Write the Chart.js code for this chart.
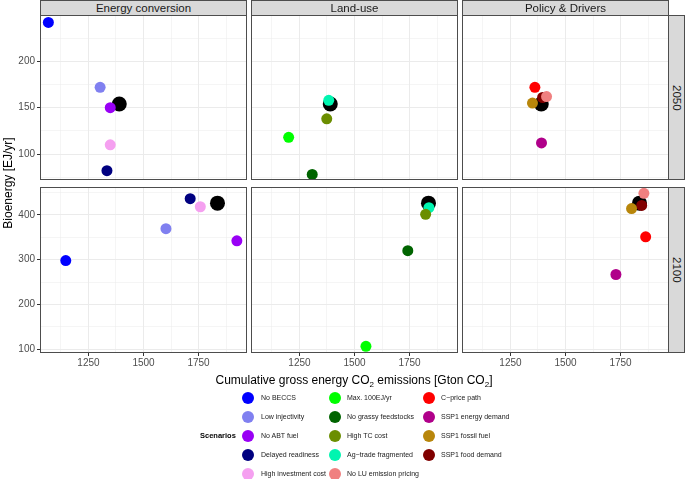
<!DOCTYPE html>
<html>
<head>
<meta charset="utf-8">
<script src="https://cdn.jsdelivr.net/npm/chart.js@4.4.0/dist/chart.umd.min.js"></script>
<style>
  body { margin: 0; background: #fff; font-family: "Liberation Sans", Arial, sans-serif; }
  #wrap { position: relative; width: 685px; height: 479px; overflow: hidden; background: #fff; }
  .strip { position: absolute; box-sizing: border-box; background: #d9d9d9; border: 1px solid #4d4d4d;
           color: #1a1a1a; font-size: 11.5px; display: flex; align-items: center; justify-content: center; }
  .strip.side span { writing-mode: vertical-rl; }
  .title { position: absolute; color: #000; font-size: 12px; white-space: nowrap; text-align: center; }
  .leg { position: absolute; font-size: 7px; color: #1a1a1a; white-space: nowrap; line-height: 10px; }
  .dot { position: absolute; width: 12px; height: 12px; border-radius: 50%; }
  canvas { position: absolute; }
</style>
</head>
<body>
<div id="wrap"></div>
<script>
// facets
const panels = ["Energy conversion", "Land-use", "Policy & Drivers"];
const years = ["2050", "2100"];

// scenarios, legend order (column by column)
const scenarios = [
  "No BECCS", "Low injectivity", "No ABT fuel", "Delayed readiness", "High investment cost",
  "Max. 100EJ/yr", "No grassy feedstocks", "High TC cost", "Ag\u2212trade fragmented", "No LU emission pricing",
  "C\u2212price path", "SSP1 energy demand", "SSP1 fossil fuel", "SSP1 food demand"
];
const scenarioColors = [
  "#0000ff", "#8080f0", "#9900f5", "#000080", "#f5a0f0",
  "#00ff00", "#006400", "#6b8e00", "#00f5b0", "#f08080",
  "#ff0000", "#b0008a", "#b8860b", "#800000"
];
// facet column each scenario is shown in
const scenarioPanel = [0, 0, 0, 0, 0, 1, 1, 1, 1, 2, 2, 2, 2, 2];

// cumulative gross energy CO2 emissions [Gton CO2] and bioenergy [EJ/yr]
const emissions2050 = [1068, 1303, 1349, 1334, 1349, 1201, 1308, 1374, 1383, 1414, 1361, 1391, 1350, 1396];
const bioenergy2050 = [242, 172, 150, 82, 110, 118, 78, 138, 158, 162, 172, 112, 155, 161];
const emissions2100 = [1147, 1602, 1924, 1712, 1758, 1552, 1742, 1823, 1838, 1856, 1864, 1729, 1800, 1846];
const bioenergy2100 = [298, 369, 342, 436, 418, 107, 320, 401, 416, 448, 351, 267, 414, 421];

// default scenario (large black point), per year
const defaultEmissions = [1390, 1836];
const defaultBioenergy = [154, 426];

// axes
const xRange = [1030, 1970];
const xTicks = [1250, 1500, 1750];
const xGrid = [1125, 1250, 1375, 1500, 1625, 1750, 1875];
const yRanges = [[72, 250], [92, 462]];
const yTicks = [[100, 150, 200], [100, 200, 300, 400]];
const yGrid = [[75, 100, 125, 150, 175, 200, 225], [100, 150, 200, 250, 300, 350, 400, 450]];

const emissions = [emissions2050, emissions2100];
const bioenergy = [bioenergy2050, bioenergy2100];

// layout
const colLeft = [40, 251, 462];
const panelW = 207;
const rowTop = [15, 187];
const rowH = [165, 166];
const FONT = "Liberation Sans";

Chart.defaults.font.family = FONT;
const wrap = document.getElementById("wrap");

const panelBorder = {
  id: "panelBorder",
  afterDatasetsDraw(chart) {
    const a = chart.chartArea, g = chart.ctx;
    g.save();
    g.strokeStyle = "#4d4d4d";
    g.lineWidth = 1;
    g.strokeRect(a.left + 0.5, a.top + 0.5, a.right - a.left - 1, a.bottom - a.top - 1);
    g.restore();
  }
};

function makePanel(r, c) {
  const yAxisW = c === 0 ? 40 : 0;
  const xAxisH = r === 1 ? 22 : 0;
  const cv = document.createElement("canvas");
  cv.width = panelW + yAxisW;
  cv.height = rowH[r] + xAxisH;
  cv.style.left = (colLeft[c] - yAxisW) + "px";
  cv.style.top = rowTop[r] + "px";
  wrap.appendChild(cv);

  const datasets = [];
  scenarios.forEach((name, i) => {
    if (scenarioPanel[i] !== c) return;
    datasets.push({
      label: name,
      data: [{ x: emissions[r][i], y: bioenergy[r][i] }],
      backgroundColor: scenarioColors[i],
      borderWidth: 0,
      pointRadius: 5.5
    });
  });
  // default last in the list => drawn underneath
  datasets.push({
    label: "Default",
    data: [{ x: defaultEmissions[r], y: defaultBioenergy[r] }],
    backgroundColor: "#000",
    borderWidth: 0,
    pointRadius: 7.5
  });

  new Chart(cv, {
    type: "scatter",
    data: { datasets },
    options: {
      responsive: false,
      animation: false,
      events: [],
      layout: { padding: 0, autoPadding: false },
      plugins: { legend: { display: false }, tooltip: { enabled: false } },
      scales: {
        x: {
          type: "linear", min: xRange[0], max: xRange[1],
          afterBuildTicks: s => { s.ticks = xGrid.map(v => ({ value: v })); },
          afterFit: s => { s.height = xAxisH; s.paddingLeft = 0; s.paddingRight = 0; },
          ticks: {
            display: r === 1, autoSkip: false, maxRotation: 0, padding: 1,
            color: "#4d4d4d", font: { size: 10 },
            callback: v => xTicks.includes(v) ? String(v) : ""
          },
          grid: {
            color: "#ebebeb",
            lineWidth: ctx => xTicks.includes(ctx.tick.value) ? 1 : 0.5,
            drawTicks: r === 1, tickLength: 3, tickWidth: 1,
            tickColor: ctx => xTicks.includes(ctx.tick.value) ? "#333" : "rgba(0,0,0,0)"
          },
          border: { display: false }
        },
        y: {
          type: "linear", min: yRanges[r][0], max: yRanges[r][1],
          afterBuildTicks: s => { s.ticks = yGrid[r].map(v => ({ value: v })); },
          afterFit: s => { s.width = yAxisW; s.paddingTop = 0; s.paddingBottom = 0; },
          ticks: {
            display: c === 0, autoSkip: false, padding: 2,
            color: "#4d4d4d", font: { size: 10 },
            callback: v => yTicks[r].includes(v) ? String(v) : ""
          },
          grid: {
            color: "#ebebeb",
            lineWidth: ctx => yTicks[r].includes(ctx.tick.value) ? 1 : 0.5,
            drawTicks: c === 0, tickLength: 3, tickWidth: 1,
            tickColor: ctx => yTicks[r].includes(ctx.tick.value) ? "#333" : "rgba(0,0,0,0)"
          },
          border: { display: false }
        }
      }
    },
    plugins: [panelBorder]
  });
}

for (let r = 0; r < 2; r++) for (let c = 0; c < 3; c++) makePanel(r, c);

// strips
panels.forEach((p, c) => {
  const d = document.createElement("div");
  d.className = "strip";
  d.style.cssText = `left:${colLeft[c]}px;top:0px;width:${panelW}px;height:16px;`;
  d.textContent = p;
  wrap.appendChild(d);
});
years.forEach((y, r) => {
  const d = document.createElement("div");
  d.className = "strip side";
  d.style.cssText = `left:668px;top:${rowTop[r]}px;width:17px;height:${rowH[r]}px;`;
  d.innerHTML = `<span>${y}</span>`;
  wrap.appendChild(d);
});

// axis titles
const xt = document.createElement("div");
xt.className = "title";
xt.style.cssText = "left:154px;width:400px;top:373px;";
xt.innerHTML = "Cumulative gross energy CO<sub style='font-size:8px'>2</sub> emissions [Gton CO<sub style='font-size:8px'>2</sub>]";
wrap.appendChild(xt);

const yt = document.createElement("div");
yt.className = "title";
yt.style.cssText = "left:-92px;width:200px;top:176px;transform:rotate(-90deg);";
yt.textContent = "Bioenergy [EJ/yr]";
wrap.appendChild(yt);

// legend
const legDotX = [248, 335, 429];
const legTextX = [261, 347, 441];
const legRowY = [398, 417, 436, 454.5, 473.5];
scenarios.forEach((name, i) => {
  const col = Math.floor(i / 5), row = i % 5;
  const dot = document.createElement("div");
  dot.className = "dot";
  dot.style.cssText = `left:${legDotX[col] - 6}px;top:${legRowY[row] - 6}px;background:${scenarioColors[i]};`;
  wrap.appendChild(dot);
  const t = document.createElement("div");
  t.className = "leg";
  t.style.cssText = `left:${legTextX[col]}px;top:${legRowY[row] - 5}px;`;
  t.textContent = name;
  wrap.appendChild(t);
});
const lt = document.createElement("div");
lt.className = "leg";
lt.style.cssText = "left:200px;top:431px;font-weight:bold;font-size:7.5px;color:#000;";
lt.textContent = "Scenarios";
wrap.appendChild(lt);
</script>
</body>
</html>
